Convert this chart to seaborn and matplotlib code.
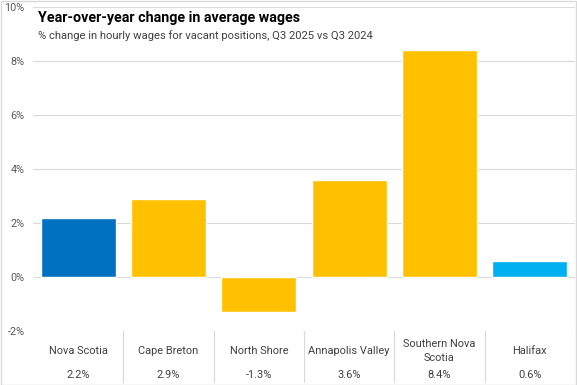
import matplotlib
matplotlib.use('Agg')
import matplotlib.pyplot as plt
import matplotlib.transforms as mtransforms
from matplotlib.lines import Line2D
import seaborn as sns
import pandas as pd

# data
regions = ['Nova Scotia', 'Cape Breton', 'North Shore', 'Annapolis Valley', 'Southern Nova\nScotia', 'Halifax']
changes = [2.2, 2.9, -1.3, 3.6, 8.4, 0.6]
value_labels = ['2.2%', '2.9%', '-1.3%', '3.6%', '8.4%', '0.6%']
bar_colors = ['#0070C0', '#FFC000', '#FFC000', '#FFC000', '#FFC000', '#00B0F0']
yticks = [-2, 0, 2, 4, 6, 8, 10]

df = pd.DataFrame({'region': regions, 'change': changes})

sns.set_style('white')
plt.rcParams['font.family'] = ['Roboto', 'DejaVu Sans']

fig = plt.figure(figsize=(5.77, 3.85), dpi=100)
ax = fig.add_axes([33 / 577, 54 / 385, 542 / 577, 324 / 385])

sns.barplot(data=df, x='region', y='change', hue='region', palette=bar_colors,
            legend=False, width=0.83, saturation=1, ax=ax)

ax.set_ylim(-2, 10)
ax.set_yticks(yticks)
ax.set_yticklabels([f'{t}%' for t in yticks], color='#595959', fontsize=7.8)
ax.tick_params(axis='y', length=0, pad=6)
ax.yaxis.grid(True, color='#D9D9D9', linewidth=0.8)
ax.set_axisbelow(True)
for s in ax.spines.values():
    s.set_visible(False)
ax.set_xticks([])
ax.set_xlabel('')
ax.set_ylabel('')

# table under the plot
trans = mtransforms.blended_transform_factory(ax.transData, ax.transAxes)
n = len(regions)
for i in range(n):
    ax.text(i, -0.062, regions[i], transform=trans, ha='center', va='center',
            fontsize=7.9, color='#404040', linespacing=1.55)
    ax.text(i, -0.136, value_labels[i], transform=trans, ha='center', va='center',
            fontsize=7.9, color='#404040')
for i in range(1, n):
    ax.add_line(Line2D([i - 0.5, i - 0.5], [0, -0.157], transform=trans,
                       color='#D9D9D9', linewidth=0.8, clip_on=False))

# title and subtitle inside the plot
fig.text(38 / 577, 1 - 18 / 385, 'Year-over-year change in average wages',
         fontsize=10.3, fontweight='bold', color='#000000', va='center')
fig.text(38 / 577, 1 - 36 / 385, '% change in hourly wages for vacant positions, Q3 2025 vs Q3 2024',
         fontsize=8.1, color='#404040', va='center')

# light border around the figure
fig.patches.append(plt.Rectangle((0.001, 0.001), 0.998, 0.997, transform=fig.transFigure,
                                 fill=False, edgecolor='#D9D9D9', linewidth=1))

fig.savefig('out.png', dpi=100)
